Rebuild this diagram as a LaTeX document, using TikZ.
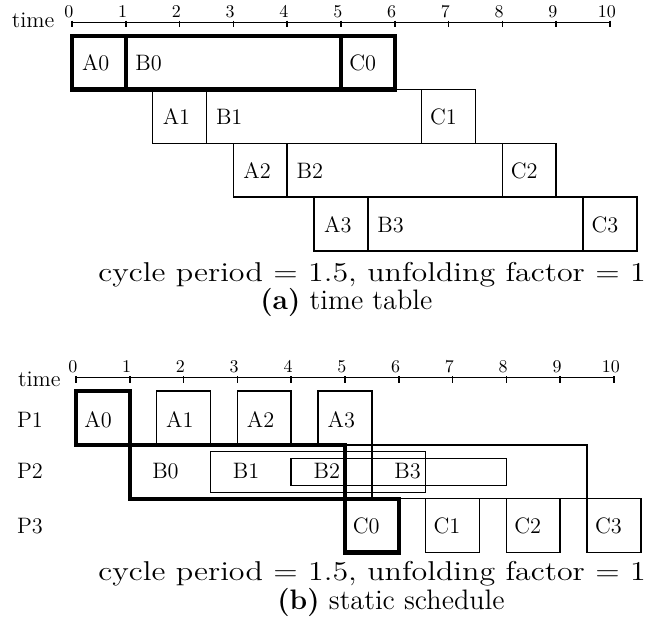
\documentclass[tikz,border=0pt]{standalone}
\begin{document}
\begin{tikzpicture}[
  thinbox/.style={line width=0.8pt},
  thickbox/.style={line width=2.2pt},
  axisline/.style={line width=0.8pt},
  lbl/.style={anchor=base west, inner sep=0pt, font=\fontsize{11.8}{14}\selectfont},
  plbl/.style={anchor=base, inner sep=0pt, font=\fontsize{11.8}{14}\selectfont},
  timelbl/.style={anchor=base east, inner sep=0pt, font=\fontsize{11.8}{14}\selectfont},
  ticklbl/.style={anchor=base, inner sep=0pt, font=\fontsize{9.5}{11}\selectfont},
  captext/.style={anchor=base west, inner sep=0pt, transform shape, font=\fontsize{14.4}{18}\selectfont},
  captitle/.style={anchor=base west, inner sep=0pt, font=\fontsize{14.9}{18}\selectfont}
]
\useasboundingbox (0,0) rectangle (12.156,-11.84);

% ---------------- (a) time table ----------------
\begin{scope}[shift={(1.338,-0.414)}]
  \draw[axisline] (0,0) -- (10,0);
  \foreach \i in {0,...,10} {
    \draw[axisline] (\i,0.03) -- (\i,-0.09);
    \node[ticklbl] (ta\i) at (\i-0.06,0.09) {\i};
  }
  \node[timelbl] (timea) at (-0.32,-0.10) {time};
  % rows 1..3 (thin)
  \foreach \r/\s in {1/1.5, 2/3, 3/4.5} {
    \draw[thinbox] (\s,-0.25-\r) rectangle ++(1,-1);
    \draw[thinbox] (\s+1,-0.25-\r) rectangle ++(4,-1);
    \draw[thinbox] (\s+5,-0.25-\r) rectangle ++(1,-1);
    \node[lbl] (aA\r) at (\s+0.18,-0.9-\r) {A\r};
    \node[lbl] (aB\r) at (\s+1.17,-0.9-\r) {B\r};
    \node[lbl] (aC\r) at (\s+5.15,-0.9-\r) {C\r};
  }
  % row 0 (thick)
  \draw[thickbox] (0,-0.25) rectangle (1,-1.25);
  \draw[thickbox] (1,-0.25) rectangle (5,-1.25);
  \draw[thickbox] (5,-0.25) rectangle (6,-1.25);
  \node[lbl] (aA0) at (0.18,-0.9) {A0};
  \node[lbl] (aB0) at (1.17,-0.9) {B0};
  \node[lbl] (aC0) at (5.15,-0.9) {C0};
\end{scope}

\begin{scope}[shift={(1.822,-5.223)}, xscale=1.175]
  \node[captext] (capa1) at (0,0) {cycle period $=$ 1.5, unfolding factor $=$ 1};
\end{scope}
\node[captitle] (capa2) at (4.833,-5.762) {\textbf{(a)} time table};

% ---------------- (b) static schedule ----------------
\begin{scope}[shift={(1.413,-7.02)}]
  \draw[axisline] (0,0) -- (10,0);
  \foreach \i in {0,...,10} {
    \draw[axisline] (\i,0.03) -- (\i,-0.09);
    \node[ticklbl] (tb\i) at (\i-0.06,0.09) {\i};
  }
  \node[timelbl] (timeb) at (-0.28,-0.17) {time};
  \node[plbl] (P1) at (-0.855,-0.92) {P1};
  \node[plbl] (P2) at (-0.855,-1.88) {P2};
  \node[plbl] (P3) at (-0.855,-2.89) {P3};
  % thin boxes
  \draw[thinbox] (1.5,-0.25) rectangle (2.5,-1.25);
  \draw[thinbox] (3,-0.25) rectangle (4,-1.25);
  \draw[thinbox] (4.5,-0.25) rectangle (5.5,-1.25);
  \draw[thinbox] (5.5,-1.25) rectangle (9.5,-2.25);
  \draw[thinbox] (2.5,-1.37) rectangle (6.5,-2.13);
  \draw[thinbox] (4,-1.5) rectangle (8,-2.0);
  \draw[thinbox] (6.5,-2.25) rectangle (7.5,-3.25);
  \draw[thinbox] (8,-2.25) rectangle (9,-3.25);
  \draw[thinbox] (9.5,-2.25) rectangle (10.5,-3.25);
  % thick path
  \draw[thickbox] (0,-0.25) rectangle (1,-1.25);
  \draw[thickbox] (1,-1.25) rectangle (5,-2.25);
  \draw[thickbox] (5,-2.25) rectangle (6,-3.25);
  % labels
  \node[lbl] (bA0) at (0.15,-0.92) {A0};
  \node[lbl] (bA1) at (1.67,-0.92) {A1};
  \node[lbl] (bA2) at (3.17,-0.92) {A2};
  \node[lbl] (bA3) at (4.67,-0.92) {A3};
  \node[lbl] (bB0) at (1.41,-1.88) {B0};
  \node[lbl] (bB1) at (2.91,-1.88) {B1};
  \node[lbl] (bB2) at (4.41,-1.88) {B2};
  \node[lbl] (bB3) at (5.91,-1.88) {B3};
  \node[lbl] (bC0) at (5.14,-2.89) {C0};
  \node[lbl] (bC1) at (6.64,-2.89) {C1};
  \node[lbl] (bC2) at (8.14,-2.89) {C2};
  \node[lbl] (bC3) at (9.64,-2.89) {C3};
\end{scope}

\begin{scope}[shift={(1.822,-10.794)}, xscale=1.175]
  \node[captext] (capb1) at (0,0) {cycle period $=$ 1.5, unfolding factor $=$ 1};
\end{scope}
\node[captitle] (capb2) at (5.149,-11.338) {\textbf{(b)} static schedule};
\end{tikzpicture}
\end{document}
